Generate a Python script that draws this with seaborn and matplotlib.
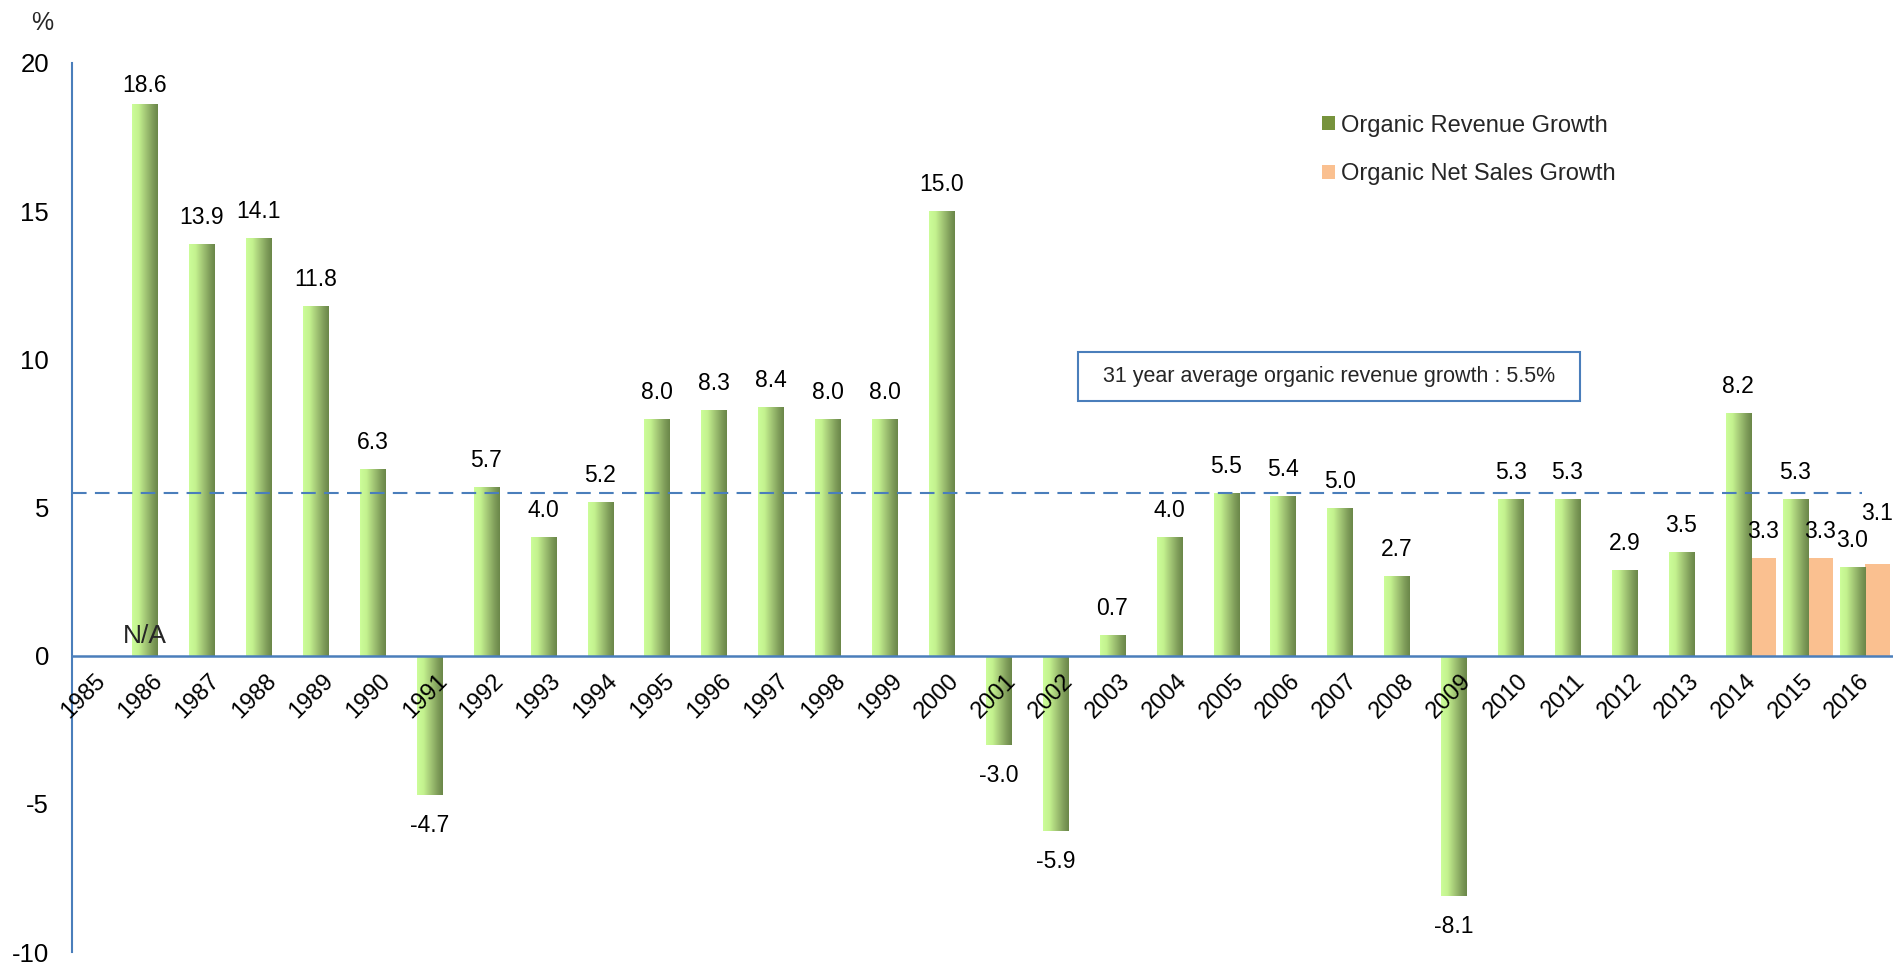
import numpy as np
import pandas as pd
import matplotlib
matplotlib.use("Agg")
import matplotlib.pyplot as plt
import matplotlib.transforms as mtransforms
from matplotlib.colors import LinearSegmentedColormap
from matplotlib.patches import Patch, Rectangle
import seaborn as sns

# ---- data ---------------------------------------------------------------
years = [str(y) for y in range(1985, 2017)]
revenue_growth = [np.nan, 18.6, 13.9, 14.1, 11.8, 6.3, -4.7, 5.7, 4.0, 5.2,
                  8.0, 8.3, 8.4, 8.0, 8.0, 15.0, -3.0, -5.9, 0.7, 4.0,
                  5.5, 5.4, 5.0, 2.7, -8.1, 5.3, 5.3, 2.9, 3.5, 8.2,
                  5.3, 3.0]
net_sales_growth = [np.nan] * 29 + [3.3, 3.3, 3.1]
series_names = ["Organic Revenue Growth", "Organic Net Sales Growth"]
y_ticks = [-10, -5, 0, 5, 10, 15, 20]

df = pd.DataFrame({
    "year": years * 2,
    "growth": revenue_growth + net_sales_growth,
    "series": [series_names[0]] * len(years) + [series_names[1]] * len(years),
})
average_growth = float(np.nanmean(revenue_growth))
n_years = int(np.sum(np.isfinite(revenue_growth)))

# ---- style --------------------------------------------------------------
sns.set_style("white")
plt.rcParams["font.family"] = ["Liberation Sans", "DejaVu Sans"]
AXIS_BLUE = "#4a7ebb"
GREEN = "#9bbb59"
ORANGE = "#fac090"

fig = plt.figure(figsize=(18.93, 9.64), dpi=100)
ax = fig.add_axes([72 / 1893, 12 / 964, 1821 / 1893, 889 / 964])

sns.barplot(data=df, x="year", y="growth", hue="series", order=years,
            hue_order=series_names, palette={series_names[0]: GREEN,
                                             series_names[1]: ORANGE},
            width=0.88, errorbar=None, saturation=1, legend=False, ax=ax,
            linewidth=0)
ax.set_axisbelow(False)

# horizontal light-to-dark shading on the revenue bars
shade = LinearSegmentedColormap.from_list(
    "bar_shade", [(0.0, "#ccfd99"), (0.25, "#c4f28f"), (0.55, "#a0c373"),
                  (0.8, "#7f9d5a"), (1.0, "#6a8648")])
grad = np.linspace(0, 1, 256).reshape(1, -1)
green_bars = [b for b in ax.containers[0] if np.isfinite(b.get_height())]
orange_bars = [b for b in ax.containers[1] if np.isfinite(b.get_height())]
for bar in green_bars:
    x0, w = bar.get_x(), bar.get_width()
    y0, h = bar.get_y(), bar.get_height()
    im = ax.imshow(grad, extent=[x0, x0 + w, min(y0, y0 + h), max(y0, y0 + h)],
                   aspect="auto", cmap=shade, interpolation="bicubic",
                   zorder=bar.get_zorder() + 0.05)
    im.set_clip_path(bar)

# value labels
PT_PER_PX = 72 / 100
label_shift_px = {(0, "1986"): -8, (1, "2016"): 24}
for s_idx, bars in enumerate([green_bars, orange_bars]):
    for bar in bars:
        val = bar.get_height()
        cx = bar.get_x() + bar.get_width() / 2
        yr = years[int(round(cx))]
        if val >= 0:
            off = 20 + label_shift_px.get((s_idx, yr), 0)
        else:
            off = -37.5
        ax.annotate(f"{val:.1f}", xy=(cx, val), xytext=(0, off * PT_PER_PX),
                    textcoords="offset points", ha="center", va="baseline",
                    fontsize=16.5, color="black", annotation_clip=False,
                    zorder=5)

# missing first revenue value
first_bar = green_bars[0]
ax.annotate("N/A", xy=(first_bar.get_x() + first_bar.get_width() / 2, 0),
            xytext=(0, 13 * PT_PER_PX), textcoords="offset points",
            ha="center", va="baseline", fontsize=19, zorder=5)

# long-run average line and caption box
ax.axhline(average_growth, xmin=0, xmax=0.983, color=AXIS_BLUE, lw=1.5,
           dashes=(7, 4), zorder=4)
ax.add_patch(Rectangle((0.5524, 0.6198), 0.2757, 0.055, transform=ax.transAxes,
                       fill=False, edgecolor=AXIS_BLUE, lw=1.5, zorder=5))
ax.text(0.6903, 0.6473,
        f"{n_years} year average organic revenue growth : {average_growth:.1f}%",
        transform=ax.transAxes, ha="center", va="center", fontsize=15.5,
        zorder=6)

# axes
ax.set_xlim(-0.5, len(years) - 0.5)
ax.set_ylim(-10, 20)
ax.set_yticks(y_ticks)
ax.set_yticklabels([str(t) for t in y_ticks])
ax.set_xlabel("")
ax.set_ylabel("")
for side in ("top", "right"):
    ax.spines[side].set_visible(False)
ax.spines["left"].set_color(AXIS_BLUE)
ax.spines["left"].set_linewidth(1.5)
ax.spines["bottom"].set_color(AXIS_BLUE)
ax.spines["bottom"].set_linewidth(1.8)
ax.spines["bottom"].set_position(("data", 0))
ax.spines["bottom"].set_zorder(4.5)
ax.tick_params(axis="y", direction="out", length=5, width=1.5,
               color=AXIS_BLUE, labelsize=18.5, pad=11.5, labelcolor="black")
ax.tick_params(axis="x", length=0, pad=10.5, labelsize=17, labelcolor="black")
shift = mtransforms.ScaledTranslation(-6 / 100, 0, fig.dpi_scale_trans)
for lbl in ax.get_xticklabels():
    lbl.set_rotation(45)
    lbl.set_ha("right")
    lbl.set_va("top")
    lbl.set_rotation_mode("anchor")
    lbl.set_transform(lbl.get_transform() + shift)

fig.text(42 / 1893, 1 - 23 / 964, "%", ha="center", va="center", fontsize=18)

handles = [Patch(facecolor="#77933c", edgecolor="none"),
           Patch(facecolor=ORANGE, edgecolor="none")]
ax.legend(handles, series_names, loc="upper left",
          bbox_to_anchor=(0.6864, 0.942), frameon=False, fontsize=17,
          handlelength=0.55, handleheight=0.55, handletextpad=0.25,
          labelspacing=1.13, borderpad=0, borderaxespad=0)

fig.savefig("out.png", dpi=100, facecolor="white")
